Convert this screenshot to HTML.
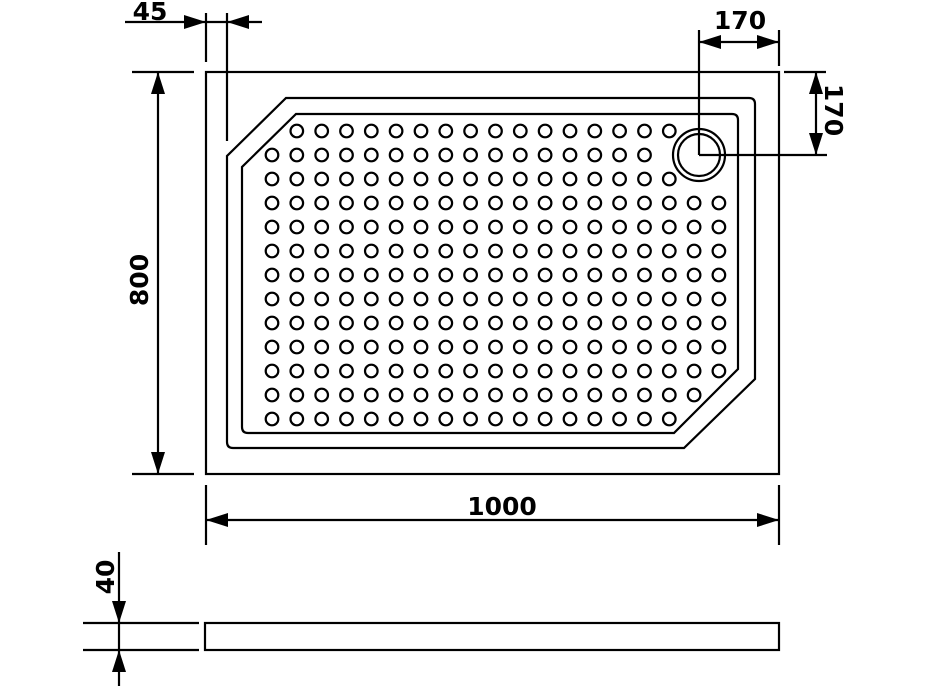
<!DOCTYPE html>
<html><head><meta charset="utf-8"><style>
html,body{margin:0;padding:0;background:#fff;width:928px;height:686px;overflow:hidden}
text{font-family:"DejaVu Sans","Liberation Sans",sans-serif;font-weight:bold;font-size:25px;fill:#000}
</style></head><body>
<svg id="s" width="928" height="686" viewBox="0 0 928 686" xmlns="http://www.w3.org/2000/svg">
<defs>
<marker id="a" viewBox="0 0 22 14" refX="22" refY="7" markerWidth="22" markerHeight="14" orient="auto-start-reverse" markerUnits="userSpaceOnUse"><path d="M0,0 L22,7 L0,14 Z" fill="#000"/></marker>
</defs>
<g stroke="#000" stroke-width="2.2" fill="none">
<rect x="206" y="72" width="573" height="402"/>
<path d="M286,98 H749 Q755,98 755,104 V379 L684,448 H233 Q227,448 227,442 V156 Z"/>
<path d="M296,114 H732 Q738,114 738,120 V369 L674,433 H248 Q242,433 242,427 V167 Z"/>
<circle cx="699" cy="155" r="26"/>
<circle cx="699" cy="155" r="21"/>
<line x1="699" y1="30" x2="699" y2="155"/>
<line x1="699" y1="155" x2="827" y2="155"/>
<line x1="779" y1="30" x2="779" y2="66"/>
<line x1="699" y1="42" x2="779" y2="42" marker-start="url(#a)" marker-end="url(#a)"/>
<line x1="784" y1="72" x2="826" y2="72"/>
<line x1="816" y1="72" x2="816" y2="155" marker-start="url(#a)" marker-end="url(#a)"/>
<line x1="206" y1="13" x2="206" y2="62"/>
<line x1="227" y1="13" x2="227" y2="141"/>
<line x1="125" y1="22" x2="206" y2="22" marker-end="url(#a)"/>
<line x1="262" y1="22" x2="227" y2="22" marker-end="url(#a)"/>
<line x1="206" y1="22" x2="227" y2="22"/>
<line x1="132" y1="72" x2="194" y2="72"/>
<line x1="132" y1="474" x2="194" y2="474"/>
<line x1="158" y1="72" x2="158" y2="474" marker-start="url(#a)" marker-end="url(#a)"/>
<line x1="206" y1="485" x2="206" y2="545"/>
<line x1="779" y1="485" x2="779" y2="545"/>
<line x1="206" y1="520" x2="779" y2="520" marker-start="url(#a)" marker-end="url(#a)"/>
<rect x="205" y="623" width="574" height="27"/>
<line x1="83" y1="623" x2="199" y2="623"/>
<line x1="83" y1="650" x2="199" y2="650"/>
<line x1="119" y1="552" x2="119" y2="623" marker-end="url(#a)"/>
<line x1="119" y1="623" x2="119" y2="650"/>
<line x1="119" y1="686" x2="119" y2="650" marker-end="url(#a)"/>
<g id="dots"></g>
</g>
<text x="150" y="20" text-anchor="middle">45</text>
<text x="740" y="29" text-anchor="middle">170</text>
<text x="502" y="515" text-anchor="middle">1000</text>
<text transform="translate(825,110) rotate(90)" text-anchor="middle">170</text>
<text transform="translate(148,280) rotate(-90)" text-anchor="middle">800</text>
<text transform="translate(114,577) rotate(-90)" text-anchor="middle">40</text>
</svg>
<script>
var g=document.getElementById('dots'),ns='http://www.w3.org/2000/svg';
var ranges=[[1,16],[0,15],[0,16],[0,18],[0,18],[0,18],[0,18],[0,18],[0,18],[0,18],[0,18],[0,17],[0,16]];
for(var r=0;r<13;r++){for(var i=ranges[r][0];i<=ranges[r][1];i++){var c=document.createElementNS(ns,'circle');c.setAttribute('cx',(272+24.83*i).toFixed(1));c.setAttribute('cy',131+24*r);c.setAttribute('r',6.3);g.appendChild(c);}}
</script>
</body></html>
